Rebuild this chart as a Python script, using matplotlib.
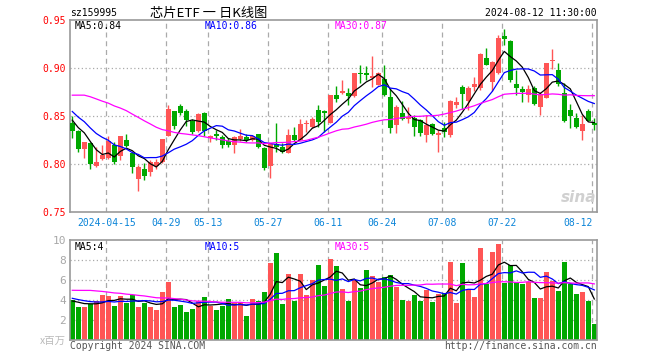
import numpy as np
import pandas as pd
import matplotlib
matplotlib.use('Agg')
import matplotlib.pyplot as plt

# daily candles sz159995, 2024-04-03 .. 2024-08-12 (88 trading days)
opens = [0.843, 0.835, 0.816, 0.822, 0.798, 0.806, 0.807, 0.820, 0.809, 0.825,
         0.812, 0.785, 0.795, 0.792, 0.798, 0.802, 0.830, 0.856, 0.861, 0.855,
         0.845, 0.835, 0.853, 0.827, 0.832, 0.828, 0.824, 0.820, 0.826, 0.828,
         0.825, 0.832, 0.817, 0.798, 0.821, 0.818, 0.812, 0.831, 0.825, 0.842,
         0.839, 0.857, 0.856, 0.843, 0.872, 0.874, 0.874, 0.871, 0.895, 0.895,
         0.890, 0.883, 0.889, 0.870, 0.841, 0.853, 0.847, 0.848, 0.846, 0.831,
         0.842, 0.831, 0.838, 0.831, 0.862, 0.881, 0.866, 0.881, 0.880, 0.911,
         0.886, 0.895, 0.934, 0.928, 0.884, 0.878, 0.872, 0.879, 0.860, 0.869,
         0.908, 0.898, 0.874, 0.857, 0.848, 0.835, 0.856, 0.843]
highs = [0.850, 0.836, 0.823, 0.823, 0.818, 0.820, 0.829, 0.823, 0.829, 0.832,
         0.813, 0.799, 0.801, 0.804, 0.806, 0.826, 0.862, 0.856, 0.863, 0.858,
         0.847, 0.853, 0.854, 0.831, 0.836, 0.831, 0.827, 0.829, 0.837, 0.832,
         0.831, 0.832, 0.818, 0.821, 0.843, 0.822, 0.837, 0.839, 0.847, 0.846,
         0.849, 0.862, 0.857, 0.872, 0.882, 0.888, 0.879, 0.895, 0.903, 0.902,
         0.913, 0.896, 0.903, 0.880, 0.862, 0.866, 0.860, 0.851, 0.847, 0.851,
         0.843, 0.836, 0.844, 0.867, 0.870, 0.883, 0.882, 0.891, 0.916, 0.921,
         0.908, 0.935, 0.941, 0.929, 0.898, 0.882, 0.883, 0.882, 0.875, 0.905,
         0.920, 0.906, 0.885, 0.863, 0.853, 0.851, 0.858, 0.848]
lows = [0.827, 0.813, 0.807, 0.795, 0.797, 0.805, 0.806, 0.800, 0.804, 0.818,
        0.791, 0.772, 0.784, 0.788, 0.795, 0.801, 0.829, 0.837, 0.851, 0.840,
        0.832, 0.834, 0.830, 0.823, 0.825, 0.817, 0.818, 0.812, 0.824, 0.823,
        0.824, 0.817, 0.794, 0.786, 0.813, 0.812, 0.812, 0.824, 0.825, 0.834,
        0.838, 0.839, 0.834, 0.843, 0.865, 0.873, 0.862, 0.870, 0.885, 0.888,
        0.881, 0.883, 0.871, 0.833, 0.833, 0.846, 0.843, 0.830, 0.830, 0.823,
        0.831, 0.813, 0.828, 0.828, 0.859, 0.858, 0.857, 0.876, 0.877, 0.903,
        0.876, 0.894, 0.924, 0.886, 0.872, 0.865, 0.865, 0.862, 0.851, 0.869,
        0.899, 0.882, 0.844, 0.838, 0.838, 0.825, 0.845, 0.836]
closes = [0.835, 0.816, 0.823, 0.800, 0.802, 0.810, 0.824, 0.802, 0.829, 0.819,
          0.797, 0.797, 0.788, 0.802, 0.802, 0.826, 0.858, 0.840, 0.853, 0.846,
          0.834, 0.852, 0.835, 0.830, 0.829, 0.820, 0.820, 0.828, 0.830, 0.825,
          0.830, 0.818, 0.796, 0.821, 0.818, 0.813, 0.831, 0.825, 0.842, 0.843,
          0.847, 0.844, 0.853, 0.872, 0.868, 0.876, 0.871, 0.895, 0.894, 0.893,
          0.892, 0.895, 0.872, 0.838, 0.860, 0.847, 0.849, 0.839, 0.833, 0.841,
          0.832, 0.833, 0.834, 0.866, 0.865, 0.873, 0.879, 0.884, 0.915, 0.903,
          0.907, 0.932, 0.931, 0.888, 0.880, 0.875, 0.878, 0.863, 0.873, 0.905,
          0.909, 0.884, 0.845, 0.850, 0.839, 0.842, 0.845, 0.841]
# volume, x 1e6
vols = [4.0, 3.3, 3.3, 3.6, 3.9, 4.5, 4.4, 3.4, 4.4, 3.7,
        4.5, 3.3, 3.7, 3.3, 3.0, 4.8, 5.8, 3.3, 3.5, 2.8,
        3.1, 3.9, 4.3, 3.4, 3.0, 3.4, 4.1, 3.7, 3.7, 2.4,
        4.1, 3.9, 4.8, 7.7, 8.7, 3.6, 6.6, 3.9, 6.6, 4.5,
        6.0, 7.5, 5.4, 8.1, 7.4, 5.1, 3.9, 6.0, 5.2, 7.0,
        6.4, 5.8, 6.3, 6.5, 5.3, 4.0, 3.9, 4.5, 3.9, 5.0,
        3.8, 4.6, 4.7, 7.8, 3.7, 7.7, 5.0, 4.3, 9.2, 5.6,
        8.8, 9.6, 5.7, 7.5, 5.7, 5.6, 5.8, 4.2, 4.2, 6.8,
        5.9, 4.9, 7.8, 5.6, 4.6, 4.8, 3.9, 1.6]

# days before the window, estimated so the moving averages start where they do
warm_close = [0.815, 0.823, 0.850, 0.870, 0.880, 0.885, 0.890, 0.895, 0.900, 0.905,
              0.900, 0.895, 0.900, 0.905, 0.900, 0.895, 0.890, 0.885, 0.867, 0.860,
              0.875, 0.870, 0.865, 0.860, 0.850, 0.855, 0.850, 0.845, 0.845]
warm_vol = [3.5, 3.4, 3.6, 5.5, 6.0, 6.5, 5.8, 5.5, 6.2, 5.9,
            5.6, 5.4, 6.0, 5.7, 5.5, 5.8, 5.3, 5.2, 5.0, 6.0,
            4.6, 4.4, 4.5, 4.3, 4.4, 3.9, 4.0, 3.7, 3.9]

tick_idx = [6, 16, 23, 33, 43, 52, 62, 72, 87]
tick_lab = ['2024-04-15', '04-29', '05-13', '05-27', '06-11', '06-24', '07-08', '07-22', '08-12']

RED = '#ff5555'
GREEN = '#00a800'
MONO = 'DejaVu Sans Mono'
W, H = 660, 360

x = np.arange(len(closes))
o = np.array(opens)
c = np.array(closes)
cols = np.where(c >= o, RED, GREEN)

n0 = len(warm_close)
cs = pd.Series(warm_close + closes)
vs = pd.Series(warm_vol + vols)
ma_p = {n: cs.rolling(n).mean().to_numpy()[n0:] for n in (5, 10, 30)}
ma_v = {n: vs.rolling(n).mean().to_numpy()[n0:] for n in (5, 10, 30)}
ma_col = {5: 'black', 10: '#0000ff', 30: '#ff00ff'}

fig = plt.figure(figsize=(6.6, 3.6), dpi=100)
ax1 = fig.add_axes([70 / W, 1 - 212.3 / H, 527 / W, 192 / H])
ax2 = fig.add_axes([70 / W, 20 / H, 527 / W, 100 / H])

for ax in (ax1, ax2):
    ax.set_xlim(-0.38, 87.45)
    for s in ax.spines.values():
        s.set_color('#999999')
        s.set_linewidth(1.2)
    for t in tick_idx:
        ax.axvline(t - 0.33, color='#aaaaaa', ls=(0, (4, 3)), lw=0.9, zorder=0)
    ax.tick_params(length=0)

# price panel
ax1.set_ylim(0.75, 0.95)
for v in (0.80, 0.85, 0.90):
    ax1.axhline(v, color='#aaaaaa', ls=(0, (1, 2)), lw=0.9, zorder=0)
ax1.vlines(x, lows, highs, colors=cols, lw=1, zorder=2)
ax1.bar(x, np.maximum(np.abs(c - o), 0.001), bottom=np.minimum(o, c), width=0.75,
        color=cols, linewidth=0, zorder=3)
for n in (5, 10, 30):
    ax1.plot(x, ma_p[n], color=ma_col[n], lw=0.9, zorder=4)
ax1.set_yticks([0.75, 0.80, 0.85, 0.90, 0.95])
ax1.set_yticklabels(['0.75', '0.80', '0.85', '0.90', '0.95'], color='#ff0000',
                    family=MONO, fontsize=7)
ax1.set_xticks(np.array(tick_idx) - 0.33)
ax1.set_xticklabels(tick_lab, color='#0a84d8', family=MONO, fontsize=7)
ax1.get_xticklabels()[-1].set_ha('right')
ax1.tick_params(axis='y', pad=3)
ax1.tick_params(axis='x', pad=4)

# volume panel
ax2.set_ylim(0, 10)
for v in (2, 4, 6, 8):
    ax2.axhline(v, color='#aaaaaa', ls=(0, (1, 2)), lw=0.9, zorder=0)
ax2.bar(x, vols, width=0.78, color=cols, linewidth=0, zorder=2)
for n in (5, 10, 30):
    ax2.plot(x, ma_v[n], color=ma_col[n], lw=0.9, zorder=4)
ax2.set_yticks([2, 4, 6, 8, 10])
ax2.set_yticklabels(['2', '4', '6', '8', '10'], color='#a8a8a8', family=MONO, fontsize=8)
ax2.set_xticks([])
ax2.tick_params(axis='y', pad=3)


def ftext(px, py, s, **kw):
    kw.setdefault('family', MONO)
    kw.setdefault('fontsize', 7)
    kw.setdefault('va', 'center')
    fig.text(px / W, 1 - py / H, s, **kw)


ftext(70, 13, 'sz159995', color='black')
ftext(209, 13, '芯片ETF 一 日K线图', ha='center', color='black',
      family=['Noto Sans CJK SC', 'DejaVu Sans'], fontsize=9.5)
ftext(597, 13, '2024-08-12 11:30:00', ha='right', color='black')

ftext(75, 26, 'MA5:0.84', color='black')
ftext(205, 26, 'MA10:0.86', color='#0000ff')
ftext(335, 26, 'MA30:0.87', color='#ff00ff')
ftext(75, 247, 'MA5:4', color='black')
ftext(205, 247, 'MA10:5', color='#0000ff')
ftext(335, 247, 'MA30:5', color='#ff00ff')

ftext(596, 197, 'sina', ha='right', color='#d0d0d0', family='DejaVu Sans',
      fontsize=11, style='italic', weight='bold')
ftext(66, 341, 'x百万', ha='right', color='#bbbbbb',
      family=['Noto Sans CJK SC', 'DejaVu Sans'], fontsize=7.5)
ftext(70, 346, 'Copyright 2024 SINA.COM', color='#555555')
ftext(597, 346, 'http://finance.sina.com.cn', ha='right', color='#555555')

fig.savefig('out.png', dpi=100)
